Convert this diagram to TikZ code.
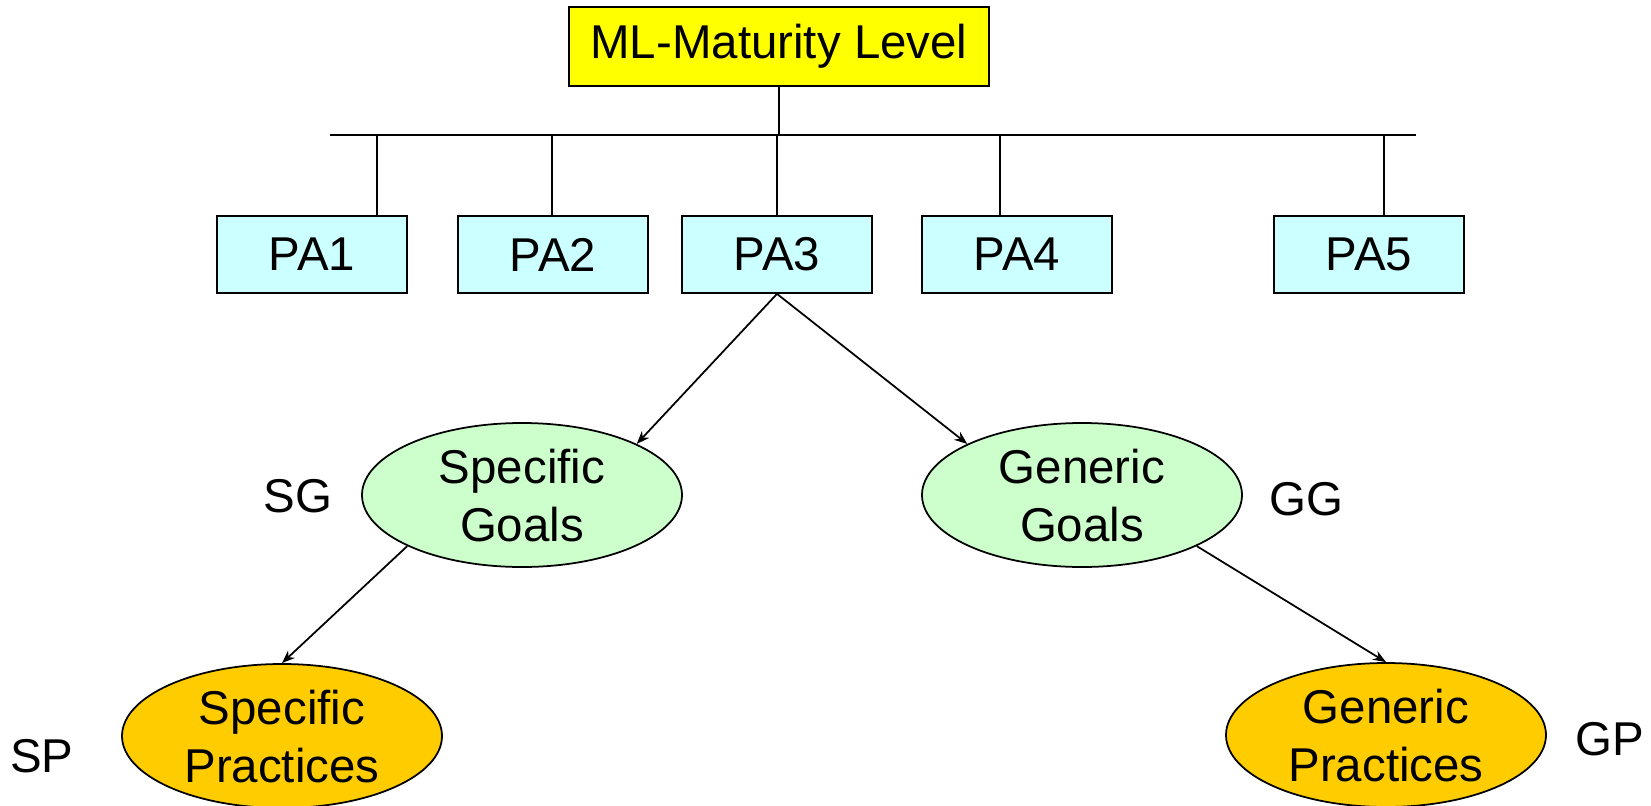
\documentclass[tikz,border=0pt]{standalone}
\usepackage{fontspec}
\setmainfont{Liberation Sans}
\usetikzlibrary{arrows.meta,shapes.geometric}

\definecolor{mlYellow}{HTML}{FFFF00}
\definecolor{paCyan}{HTML}{CCFFFF}
\definecolor{goalGreen}{HTML}{CCFFCC}
\definecolor{practiceGold}{HTML}{FFCC00}

\tikzset{
	levelbox/.style={draw, fill=mlYellow, minimum width=8.4cm, minimum height=1.58cm, inner sep=0pt},
	pabox/.style={draw, fill=paCyan, minimum width=3.8cm, minimum height=1.54cm, inner sep=0pt},
	goal/.style={ellipse, draw, fill=goalGreen, minimum width=6.4cm, minimum height=2.88cm, inner sep=0pt, align=center, text depth=-6pt},
	practice/.style={goal, fill=practiceGold},
}

\begin{document}
\begin{tikzpicture}[x=0.2mm, y=-0.2mm, line width=1pt, every node/.style={font=\fontsize{27}{33}\selectfont}, >={Stealth[length=2.6mm,width=2mm]}]
	\useasboundingbox (0,0) rectangle (1651,806);
	\node[levelbox] (ml) at (779,46.5) {ML-Maturity Level};
	\coordinate (barL) at (330,135);
	\coordinate (barR) at (1416,135);
	\draw (barL) -- (barR);
	\draw (ml.south) -- (ml.south |- barL);
	\foreach \n/\cx/\dx in {1/312/377, 2/553/552, 3/777/777, 4/1017/1000, 5/1369/1384} {
		\node[pabox] (pa\n) at (\cx,254.5) {PA\n};
		\coordinate (d\n) at (\dx,135);
		\draw (d\n) -- (d\n |- pa\n.north);
	}
	\node[goal] (sg) at (522,495) {Specific\\Goals};
	\node[goal] (gg) at (1082,495) {Generic\\Goals};
	\node[practice] (sp) at (282,736) {Specific\\Practices};
	\node[practice] (gp) at (1386,735) {Generic\\Practices};
	\node (sglbl) at (298,496) {SG};
	\node (gglbl) at (1306,499) {GG};
	\node (splbl) at (42,756) {SP};
	\node (gplbl) at (1610,739) {GP};
	\draw[->] (pa3.south) -- (sg.24);
	\draw[->] (pa3.south) -- (gg.156);
	\draw[->] (sg.204) -- (sp.north);
	\draw[->] (gg.336) -- (gp.north);
\end{tikzpicture}
\end{document}
